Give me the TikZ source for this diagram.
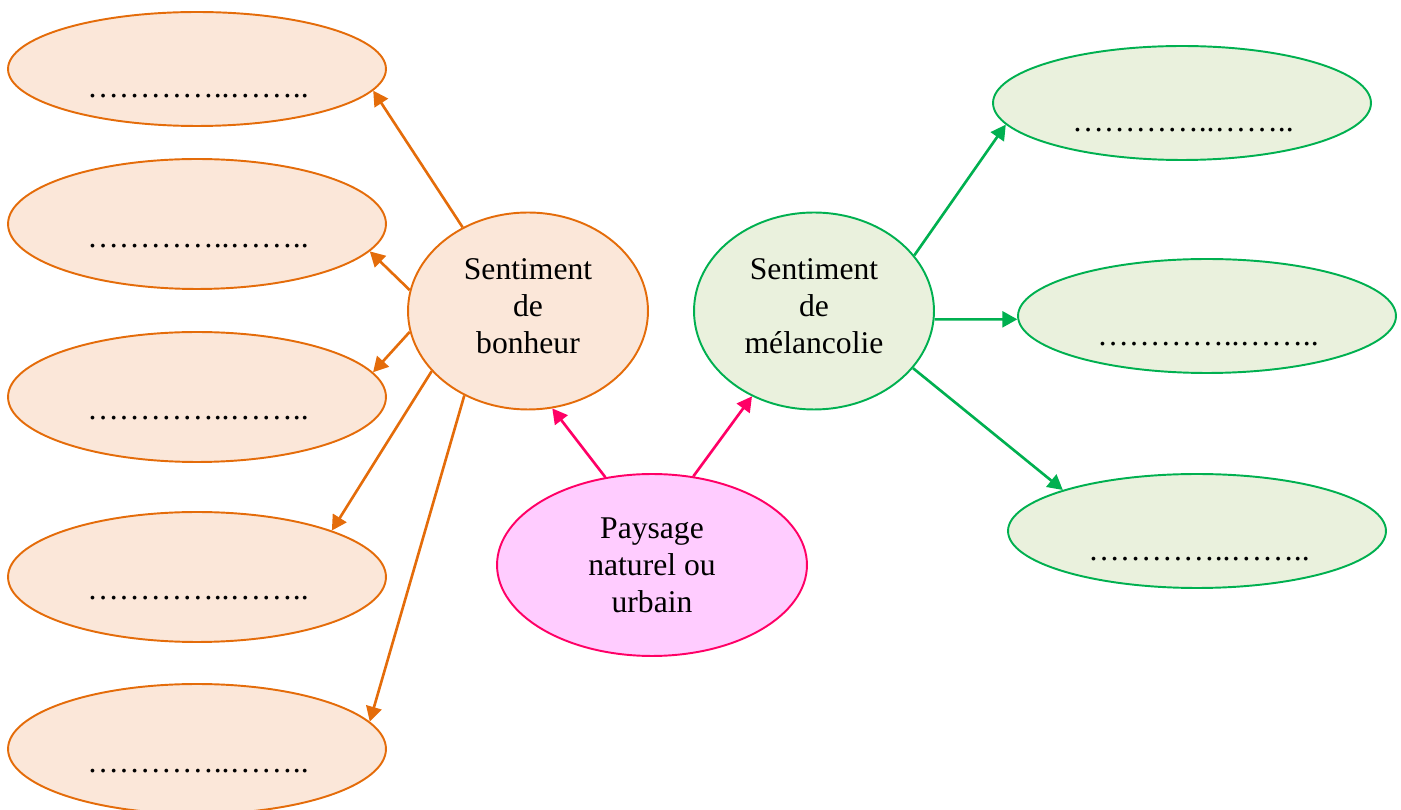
\documentclass[tikz,border=0pt]{standalone}
\usepackage{fontspec}
\setmainfont{Liberation Serif}
\usetikzlibrary{shapes.geometric,arrows.meta}

\definecolor{orangeB}{HTML}{E46C0A}
\definecolor{orangeF}{HTML}{FBE7D9}
\definecolor{vertB}{HTML}{00B050}
\definecolor{vertF}{HTML}{EAF1DD}
\definecolor{roseB}{HTML}{FF0066}
\definecolor{roseF}{HTML}{FFCCFF}

\newcommand{\pointilles}{…………..……..}

\tikzset{
  bulle/.style={ellipse, line width=1.1pt, inner sep=0pt, align=center,
    font=\fontsize{18}{21}\selectfont},
  orbulle/.style={bulle, draw=orangeB, fill=orangeF},
  vebulle/.style={bulle, draw=vertB, fill=vertF},
  rsbulle/.style={bulle, draw=roseB, fill=roseF},
  fleche/.style={-{Triangle[length=8.5pt,width=9pt]}, line width=1.5pt},
  pts/.style={anchor=base, inner sep=0pt, font=\fontsize{18}{21}\selectfont}
}

\begin{document}
\begin{tikzpicture}[x=0.02cm, y=-0.02cm]
    \useasboundingbox (0,0) rectangle (1401,810);

    % 左边的椭圆
    \node[orbulle, minimum width=7.56cm, minimum height=2.28cm] (e1) at (197,69) {};
    \node[orbulle, minimum width=7.56cm, minimum height=2.6cm] (e2) at (197,224) {};
    \node[orbulle, minimum width=7.56cm, minimum height=2.6cm] (e3) at (197,397) {};
    \node[orbulle, minimum width=7.56cm, minimum height=2.6cm] (e4) at (197,577) {};
    \node[orbulle, minimum width=7.56cm, minimum height=2.6cm] (e5) at (197,749) {};
    \node[pts] (p1) at (198,98) {\pointilles};
    \node[pts] (p2) at (198,248) {\pointilles};
    \node[pts] (p3) at (198,420) {\pointilles};
    \node[pts] (p4) at (198,600) {\pointilles};
    \node[pts] (p5) at (198,773) {\pointilles};

    % 右边的椭圆
    \node[vebulle, minimum width=7.56cm, minimum height=2.28cm] (r1) at (1182,103) {};
    \node[vebulle, minimum width=7.56cm, minimum height=2.28cm] (r2) at (1207,316) {};
    \node[vebulle, minimum width=7.56cm, minimum height=2.28cm] (r3) at (1197,531) {};
    \node[pts] (q1) at (1183,132) {\pointilles};
    \node[pts] (q2) at (1208,346) {\pointilles};
    \node[pts] (q3) at (1199,561) {\pointilles};

    % 中间
    \node[orbulle, minimum width=4.8cm, minimum height=3.94cm] (bonheur) at (528,311)
        {Sentiment\\de\\bonheur\\[-15pt]};
    \node[vebulle, minimum width=4.8cm, minimum height=3.94cm] (melancolie) at (814,311)
        {Sentiment\\de\\mélancolie\\[-15pt]};
    \node[rsbulle, minimum width=6.2cm, minimum height=3.64cm] (paysage) at (652,565)
        {Paysage\\naturel ou\\urbain};

    % 箭头
    \draw[fleche, roseB] (paysage.118) -- (bonheur.284);
    \draw[fleche, roseB] (paysage.65) -- (melancolie.234);

    \draw[fleche, orangeB] (bonheur.128) -- (e1.-7.4);
    \draw[fleche, orangeB] (bonheur.170) -- (e2.-9.3);
    \draw[fleche, orangeB] (bonheur.190) -- (e3.8.1);
    \draw[fleche, orangeB] (bonheur.212) -- (e4.19);
    \draw[fleche, orangeB] (bonheur.233) -- (e5.9.7);

    \draw[fleche, vertB] (melancolie.29) -- (r1.187.5);
    \draw[fleche, vertB] (melancolie.-4) -- (r2.181.5);
    \draw[fleche, vertB] (melancolie.-30) -- (r3.163);
\end{tikzpicture}
\end{document}
